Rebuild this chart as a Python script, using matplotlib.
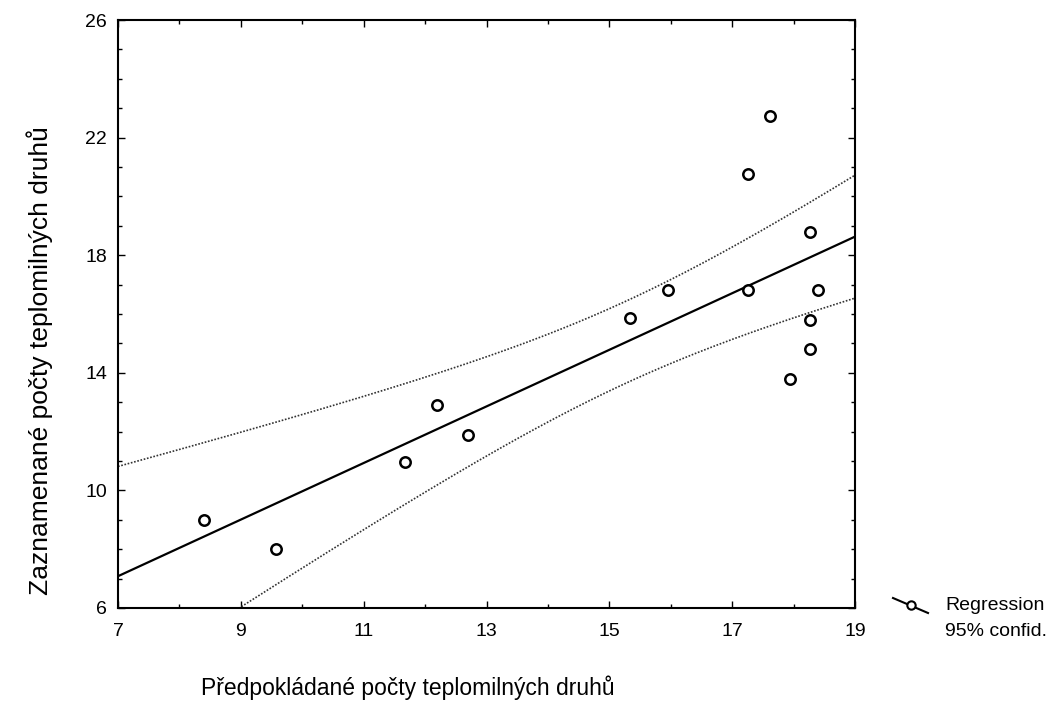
import matplotlib
matplotlib.use('Agg')
import matplotlib.pyplot as plt
import numpy as np
from matplotlib.lines import Line2D
from matplotlib.ticker import MultipleLocator

plt.rcParams['font.family'] = ['Liberation Sans', 'DejaVu Sans']

# predicted vs observed counts of thermophilous species
predicted = [8.4, 9.57, 11.67, 12.2, 12.7, 15.34, 15.96, 17.26, 17.62, 17.26, 18.4, 18.27, 18.27, 18.27, 17.94]
observed = [9.0, 8.0, 10.95, 12.9, 11.9, 15.85, 16.8, 20.75, 22.75, 16.8, 16.8, 18.8, 15.8, 14.8, 13.8]
x_ticks = [7, 9, 11, 13, 15, 17, 19]
y_ticks = [6, 10, 14, 18, 22, 26]

x = np.array(predicted)
y = np.array(observed)
n = len(x)

# linear regression with 95% confidence band for the mean
b, a = np.polyfit(x, y, 1)
xs = np.linspace(7, 19, 200)
fit = a + b * xs
resid = y - (a + b * x)
s = np.sqrt(np.sum(resid ** 2) / (n - 2))
t = 2.16  # t(0.975, 13)
se = s * np.sqrt(1 / n + (xs - x.mean()) ** 2 / np.sum((x - x.mean()) ** 2))
upper = fit + t * se
lower = fit - t * se

fig = plt.figure(figsize=(10.54, 7.07), dpi=100)
ax = fig.add_axes([118 / 1054, 1 - 608 / 707, 737 / 1054, 588 / 707])

ax.plot(xs, fit, color='black', lw=1.6)
ax.plot(xs, upper, color='#333333', lw=1.2, ls=(0, (1, 1)))
ax.plot(xs, lower, color='#333333', lw=1.2, ls=(0, (1, 1)))
ax.plot(x, y, 'o', mfc='white', mec='black', mew=1.8, ms=7.5)

ax.set_xlim(7, 19)
ax.set_ylim(6, 26)
ax.set_xticks(x_ticks)
ax.set_yticks(y_ticks)
ax.xaxis.set_minor_locator(MultipleLocator(1))
ax.yaxis.set_minor_locator(MultipleLocator(1))
ax.tick_params(which='both', direction='in', top=True, right=True, labelsize=14)
ax.tick_params(which='major', length=5, width=1)
ax.tick_params(which='minor', length=3, width=1)
ax.tick_params(axis='x', pad=11)
ax.tick_params(axis='y', pad=8)
for sp in ax.spines.values():
    sp.set_linewidth(1.5)

fig.text(40 / 1054, 1 - 361 / 707, 'Zaznamenané počty teplomilných druhů',
         rotation=90, ha='center', va='center', fontsize=19)
fig.text(408 / 1054, 1 - 688 / 707, 'Předpokládané počty teplomilných druhů',
         ha='center', va='center', fontsize=16.5)

# legend symbol
fig.add_artist(Line2D([893 / 1054, 928 / 1054], [1 - 598 / 707, 1 - 613 / 707],
                      color='black', lw=1.5, transform=fig.transFigure))
fig.add_artist(Line2D([911 / 1054], [1 - 605 / 707], marker='o', mfc='white', mec='black',
                      mew=1.5, ms=6, transform=fig.transFigure))
fig.text(945 / 1054, 1 - 606 / 707, 'Regression', ha='left', va='center', fontsize=14)
fig.text(945 / 1054, 1 - 632 / 707, '95% confid.', ha='left', va='center', fontsize=14)

fig.savefig('out.png', dpi=100)
